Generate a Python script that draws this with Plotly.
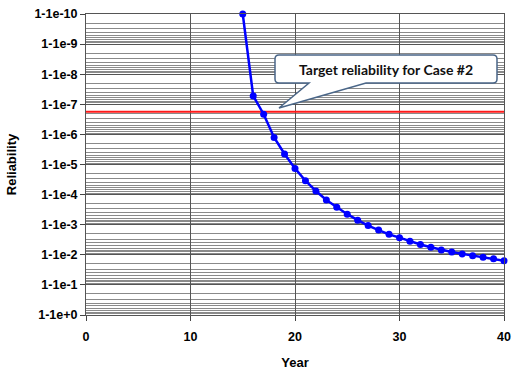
import plotly.graph_objects as go

# ---- data ----
years = list(range(15, 41))
failure_prob = [1e-10, 5.25e-8, 2.14e-7, 1.26e-6, 4.47e-6, 1.35e-5, 3.47e-5, 7.6e-5,
                1.51e-4, 2.63e-4, 4.47e-4, 7.08e-4, 1.07e-3, 1.51e-3, 2.09e-3, 2.69e-3,
                3.55e-3, 4.57e-3, 5.62e-3, 6.92e-3, 8.13e-3, 9.33e-3, 1.07e-2, 1.2e-2,
                1.35e-2, 1.58e-2]
target_x = [0, 40]
target_prob = [1.76e-7, 1.76e-7]
ytick_vals = [10.0 ** (-k) for k in range(10, -1, -1)]
ytick_text = ["1-1e-%d" % k for k in range(10, 0, -1)] + ["1-1e+0"]
xtick_vals = [0, 10, 20, 30, 40]
callout_text = "Target reliability for Case #2"

W, H = 512, 370
L, R, T, B = 86, 8, 14, 55
pw, ph = W - L - R, H - T - B


def px(x):
    return (x - L) / pw


def py(y):
    return (H - B - y) / ph


fig = go.Figure()
fig.add_trace(go.Scatter(x=target_x, y=target_prob, mode="lines",
                         line=dict(color="#ff1a1a", width=2), showlegend=False,
                         hoverinfo="skip"))
fig.add_trace(go.Scatter(x=years, y=failure_prob, mode="lines+markers",
                         line=dict(color="#0000ff", width=2.5),
                         marker=dict(color="#0000ff", size=7),
                         cliponaxis=False, showlegend=False))

# callout bubble
pts = [("M", 279, 55), ("L", 493, 55), ("Q", 497, 55, 497, 59), ("L", 497, 79),
       ("Q", 497, 83, 493, 83), ("L", 366, 83), ("L", 279, 108), ("L", 309, 83),
       ("L", 279, 83), ("Q", 275, 83, 275, 79), ("L", 275, 59), ("Q", 275, 55, 279, 55)]
path = ""
for p in pts:
    cmd = p[0]
    coords = p[1:]
    s = []
    for i in range(0, len(coords), 2):
        s.append("%.5f,%.5f" % (px(coords[i]), py(coords[i + 1])))
    path += cmd + " " + " ".join(s) + " "
path += "Z"
fig.add_shape(type="path", path=path, xref="paper", yref="paper",
              fillcolor="white", line=dict(color="#4a6688", width=1.5), layer="above")
fig.add_annotation(x=px(386), y=py(69.5), xref="paper", yref="paper",
                   text="<b>" + callout_text + "</b>", showarrow=False,
                   font=dict(family="Lato", size=14, color="#111111"),
                   xanchor="center", yanchor="middle")

tickfont = dict(family="Liberation Sans, Arial", size=12.5, color="black")
titlefont = dict(family="Liberation Sans, Arial", size=13, color="black")
fig.update_layout(
    width=W, height=H,
    margin=dict(l=L, r=R, t=T, b=B, autoexpand=False),
    paper_bgcolor="white", plot_bgcolor="white",
    xaxis=dict(range=[0, 40], tickmode="array", tickvals=xtick_vals,
               ticktext=["<b>%d</b>" % v for v in xtick_vals],
               ticks="outside", ticklen=5, ticklabelstandoff=5,
               tickcolor="#444", showgrid=True, gridcolor="#555", gridwidth=1,
               showline=True, linecolor="#555", linewidth=1, mirror=True,
               zeroline=False, tickfont=tickfont, automargin=False,
               title=dict(text="<b>Year</b>", font=titlefont, standoff=18)),
    yaxis=dict(type="log", range=[0, -10], tickmode="array", tickvals=ytick_vals,
               ticktext=["<b>%s</b>" % t for t in ytick_text], ticks="outside", ticklen=5,
               tickcolor="#444", showgrid=True, gridcolor="#555", gridwidth=1,
               minor=dict(dtick="D1", showgrid=True, gridcolor="#8a8a8a", gridwidth=1, ticks=""),
               showline=True, linecolor="#555", linewidth=1, mirror=True,
               zeroline=False, tickfont=tickfont, automargin=False,
               title=dict(text="<b>Reliability</b>", font=titlefont, standoff=14)),
)
fig.write_html("out.html")
